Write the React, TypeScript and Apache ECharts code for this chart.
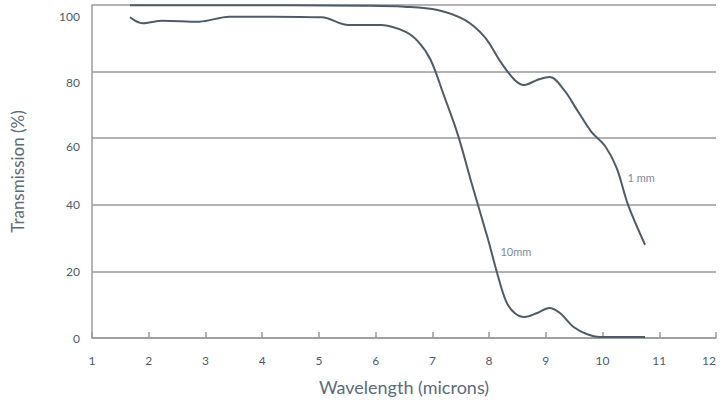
import React, { useEffect, useRef } from "react";
import * as echarts from "echarts";

const xTicks = [1, 2, 3, 4, 5, 6, 7, 8, 9, 10, 11, 12];
const yTicks = [0, 20, 40, 60, 80, 100];

const oneMmX = [1.67, 3, 4.5, 5.8, 6.5, 7.09, 7.57, 7.92, 8.2, 8.45, 8.62, 8.85, 9.07, 9.32, 9.55, 9.8, 10.05, 10.25, 10.45, 10.75];
const oneMmY = [99.9, 99.9, 99.9, 99.8, 99.5, 98.5, 95.5, 90.4, 83.0, 77.5, 76.0, 77.5, 78.4, 74.5, 68.5, 62.0, 57.5, 51.0, 40.0, 28.0];

const tenMmX = [1.67, 1.89, 2.24, 2.89, 3.42, 4.17, 5.05, 5.52, 6.1, 6.52, 6.75, 6.97, 7.2, 7.45, 7.7, 7.97, 8.15, 8.3, 8.45, 8.62, 8.85, 9.06, 9.25, 9.49, 9.72, 9.95, 10.75];
const tenMmY = [96.3, 94.5, 95.3, 95.0, 96.5, 96.5, 96.3, 94.0, 94.0, 92.0, 89.0, 83.5, 73.0, 61.0, 46.0, 30.3, 19.0, 11.0, 7.5, 6.3, 7.5, 9.0, 7.5, 3.3, 1.2, 0.3, 0.3];

const seriesNames = ["1 mm", "10mm"];
const labelPos = [[10.44, 48.3], [8.2, 26]];

const lineColor = "#4f5c68";
const gridColor = "#9a9a9a";
const textColor = "#4d5d6e";

export default function App() {
  const ref = useRef<HTMLDivElement>(null);
  useEffect(() => {
    if (!ref.current) return;
    const chart = echarts.init(ref.current, undefined, { renderer: "svg" });
    const pairs = (xs: number[], ys: number[]) => xs.map((x, i) => [x, ys[i]]);
    const mk = (name: string, data: number[][], pos: number[]) => ({
      name,
      type: "line",
      data,
      smooth: 0.35,
      showSymbol: false,
      symbol: "none",
      lineStyle: { color: lineColor, width: 2 },
      markPoint: {
        symbol: "circle",
        symbolSize: 0,
        data: [{ coord: pos, value: name }],
        label: {
          show: true,
          position: "right",
          distance: 0,
          formatter: name,
          color: "#7d8a97",
          fontSize: 11,
          fontFamily: "Lato, sans-serif",
        },
      },
    });
    const yLabelStyle = (v: number) => (v === 100 ? "a" : v === 80 ? "b" : v === 60 ? "c" : "");
    chart.setOption({
      animation: false,
      grid: { left: 92, right: 4, top: 5, bottom: 72, containLabel: false, outerBoundsMode: "none" },
      xAxis: {
        type: "value",
        min: 1,
        max: 12,
        interval: 1,
        name: "Wavelength (microns)",
        nameLocation: "middle",
        nameGap: 40,
        nameTextStyle: { color: "#5b6b7b", fontSize: 18, fontFamily: "Lato, sans-serif" },
        axisLine: { show: true, lineStyle: { color: gridColor, width: 1.5 } },
        axisTick: { show: true, inside: true, length: 6, lineStyle: { color: gridColor, width: 1.5 } },
        axisLabel: {
          color: textColor,
          fontSize: 12,
          fontFamily: "Lato, sans-serif",
          margin: 16,
          hideOverlap: false,
          alignMaxLabel: "right",
          formatter: (v: number) => (xTicks.includes(v) ? String(v) : ""),
        },
        splitLine: { show: false },
      },
      yAxis: {
        type: "value",
        min: 0,
        max: 100,
        interval: 20,
        name: "Transmission (%)",
        nameLocation: "middle",
        nameGap: 66,
        nameTextStyle: { color: "#5b6b7b", fontSize: 17, fontFamily: "Lato, sans-serif" },
        axisLine: { show: true, lineStyle: { color: gridColor, width: 1.5 } },
        axisTick: { show: false },
        axisLabel: {
          color: textColor,
          fontSize: 12,
          fontFamily: "Lato, sans-serif",
          margin: 12,
          formatter: (v: number) => {
            if (!yTicks.includes(v)) return "";
            const s = yLabelStyle(v);
            return s ? `{${s}|${v}}` : String(v);
          },
          rich: {
            a: { color: textColor, fontSize: 12, fontFamily: "Lato, sans-serif", padding: [22, 0, 0, 0] },
            b: { color: textColor, fontSize: 12, fontFamily: "Lato, sans-serif", padding: [22, 0, 0, 0] },
            c: { color: textColor, fontSize: 12, fontFamily: "Lato, sans-serif", padding: [16, 0, 0, 0] },
          },
        },
        splitLine: { show: true, lineStyle: { color: gridColor, width: 1.5 } },
      },
      series: [
        mk(seriesNames[0], pairs(oneMmX, oneMmY), labelPos[0]),
        mk(seriesNames[1], pairs(tenMmX, tenMmY), labelPos[1]),
      ],
    });
    return () => chart.dispose();
  }, []);
  return <div ref={ref} style={{ width: 720, height: 410, position: "absolute", left: 0, top: 0, background: "#fff" }} />;
}
